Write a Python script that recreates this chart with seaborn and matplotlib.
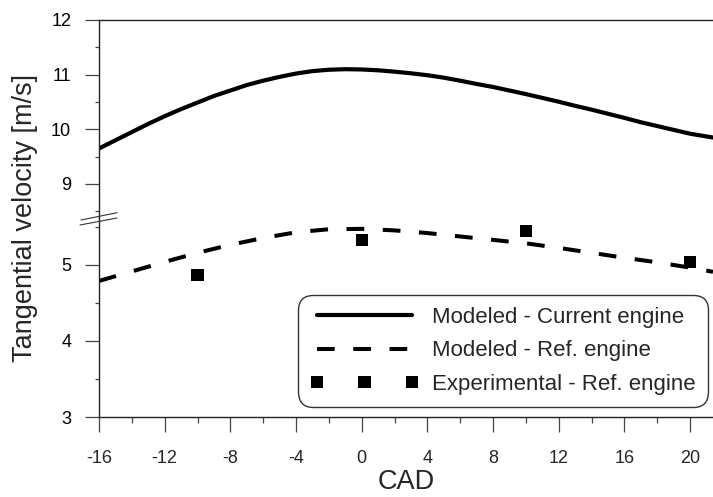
import matplotlib
matplotlib.use("Agg")
import matplotlib.pyplot as plt
import seaborn as sns
import pandas as pd
from matplotlib.lines import Line2D
from matplotlib.ticker import MultipleLocator

# ---- data ----
cad_current = [-16, -15, -14, -13, -12, -11, -10, -9, -8, -7, -6, -5, -4, -3, -2, -1, 0, 1, 2, 3,
               4, 5, 6, 7, 8, 9, 10, 11, 12, 13, 14, 15, 16, 17, 18, 19, 20, 21, 21.4]
vel_current = [9.65, 9.80, 9.95, 10.10, 10.24, 10.37, 10.49, 10.61, 10.71, 10.81, 10.89, 10.96,
               11.02, 11.065, 11.09, 11.10, 11.095, 11.08, 11.055, 11.025, 10.99, 10.945, 10.89,
               10.83, 10.775, 10.71, 10.645, 10.575, 10.505, 10.43, 10.36, 10.285, 10.21, 10.13,
               10.06, 9.99, 9.92, 9.87, 9.85]

cad_ref = [-16, -14, -12, -10, -8, -6, -4, -2, 0, 2, 4, 6, 8, 10, 12, 14, 16, 18, 20, 21.4]
vel_ref = [4.79, 4.915, 5.04, 5.16, 5.265, 5.355, 5.43, 5.47, 5.475, 5.455, 5.42, 5.375, 5.33,
           5.285, 5.225, 5.16, 5.095, 5.035, 4.965, 4.91]

cad_exp = [-10, 0, 10, 20]
vel_exp = [4.87, 5.33, 5.45, 5.035]

labels = ["Modeled - Current engine", "Modeled - Ref. engine", "Experimental - Ref. engine"]
x_ticks = [-16, -12, -8, -4, 0, 4, 8, 12, 16, 20]
y_ticks_top = [9, 10, 11, 12]
y_ticks_bot = [3, 4, 5]

df_cur = pd.DataFrame({"CAD": cad_current, "v": vel_current})
df_ref = pd.DataFrame({"CAD": cad_ref, "v": vel_ref})
df_exp = pd.DataFrame({"CAD": cad_exp, "v": vel_exp})

sns.set_theme(style="ticks")
plt.rcParams["font.family"] = ["Liberation Sans", "DejaVu Sans"]
plt.rcParams["axes.unicode_minus"] = False

W, H = 713, 497
fig = plt.figure(figsize=(W / 100, H / 100), dpi=100)


def px(x0, y0, x1, y1):
    return [x0 / W, 1 - y1 / H, (x1 - x0) / W, (y1 - y0) / H]


ax_top = fig.add_axes(px(99, 20, 713, 218))
ax_bot = fig.add_axes(px(99, 218, 713, 417))

sns.lineplot(data=df_cur, x="CAD", y="v", ax=ax_top, color="black", lw=3.0,
             label=labels[0], legend=False, errorbar=None)
sns.lineplot(data=df_ref, x="CAD", y="v", ax=ax_bot, color="black", lw=2.9,
             linestyle=(0, (4.4, 4.6)), label=labels[1], legend=False, errorbar=None)
sns.scatterplot(data=df_exp, x="CAD", y="v", ax=ax_bot, color="black", marker="s",
                s=78, edgecolor="none", label=labels[2], legend=False)

xlim = (-16, 21.4)
for ax in (ax_top, ax_bot):
    ax.set_xlim(*xlim)
    ax.spines["right"].set_visible(False)
    for s in ax.spines.values():
        s.set_linewidth(1.0)
        s.set_color("#222222")
    ax.set_xlabel("")
    ax.set_ylabel("")
    ax.tick_params(axis="y", which="major", direction="out", length=10, width=0.9,
                   color="#444444", labelsize=13, pad=10, labelcolor="black")
    ax.tick_params(axis="y", which="minor", direction="out", length=3, width=0.9,
                   color="#444444")
    ax.yaxis.set_minor_locator(MultipleLocator(0.5))

ax_top.set_ylim(8.378, 12)
ax_top.set_yticks(y_ticks_top)
ax_top.spines["bottom"].set_visible(False)
ax_top.tick_params(axis="x", which="both", bottom=False, labelbottom=False, top=False)

ax_bot.set_ylim(3, 5.618)
ax_bot.set_yticks(y_ticks_bot)
ax_bot.spines["top"].set_visible(False)
ax_bot.set_xticks(x_ticks)
ax_bot.xaxis.set_minor_locator(MultipleLocator(2))
ax_bot.tick_params(axis="x", which="major", direction="out", length=10.5, width=0.9,
                   color="#444444", labelsize=13, pad=13)
ax_bot.tick_params(axis="x", which="minor", direction="out", length=4, width=0.9,
                   color="#444444")
ax_bot.set_xlabel("CAD", fontsize=19.5, labelpad=2)

fig.text(25 / W, 1 - 218 / H, "Tangential velocity [m/s]", rotation=90,
         fontsize=19.5, ha="center", va="center")

# axis break marks
for (x0, y0, x1, y1) in [(81, 220, 117, 212.7), (80, 225, 117, 218)]:
    fig.add_artist(Line2D([x0 / W, x1 / W], [1 - y0 / H, 1 - y1 / H],
                          transform=fig.transFigure, color="#333333", lw=0.8))

ht, lt = ax_top.get_legend_handles_labels()
hb, lb = ax_bot.get_legend_handles_labels()
hmap = dict(zip(lt + lb, ht + hb))
handles = [hmap[l] for l in labels]
leg = ax_bot.legend(handles, labels, loc="lower right",
                    bbox_to_anchor=(0.992, 0.05), borderaxespad=0, fontsize=16,
                    frameon=True, fancybox=True, framealpha=1, edgecolor="#333333",
                    handlelength=4.9, handletextpad=0.6, labelspacing=0.56,
                    borderpad=0.55, numpoints=3, scatterpoints=3,
                    scatteryoffsets=[0.5])
frame = leg.get_frame()
frame.set_linewidth(1.0)
frame.set_boxstyle("round,pad=0,rounding_size=0.7")

fig.savefig("out.png", dpi=100)
